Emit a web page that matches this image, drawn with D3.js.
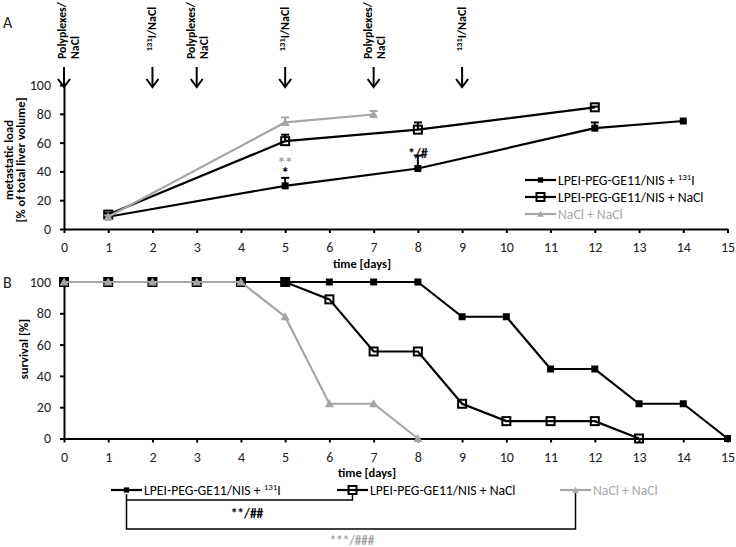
<!DOCTYPE html>
<html><head><meta charset="utf-8">
<script src="https://cdn.jsdelivr.net/npm/d3@7"></script>
<style>
body{margin:0;background:#fff}
svg{display:block;font-family:Carlito,Calibri,Lato,sans-serif}
</style></head><body>
<svg id="c" width="736" height="547"></svg>
<script>
// ---------- data ----------
const dayTicks = [0,1,2,3,4,5,6,7,8,9,10,11,12,13,14,15];
const yTicks = [0,20,40,60,80,100];
const seriesNames = ["LPEI-PEG-GE11/NIS + ", "LPEI-PEG-GE11/NIS + NaCl", "NaCl + NaCl"];
// Panel A: metastatic load
const loadIDays = [1,5,8,12,14];
const loadIVals = [8.5,30,42,70,75];
const loadIErr  = [1,5.5,9,4,0];
const loadNaDays = [1,5,8,12];
const loadNaVals = [10,61,69,84.5];
const loadNaErr  = [1,4.5,5,0.5];
const loadCtrlDays = [1,5,7];
const loadCtrlVals = [8.5,74,79.5];
const loadCtrlErr  = [1,3.5,2.5];
// Panel B: survival
const survIDays = [0,1,2,3,4,5,6,7,8,9,10,11,12,13,14,15];
const survIVals = [100,100,100,100,100,100,100,100,100,77.8,77.8,44.4,44.4,22.2,22.2,0];
const survNaDays = [0,1,2,3,4,5,6,7,8,9,10,11,12,13];
const survNaVals = [100,100,100,100,100,100,88.9,55.6,55.6,22.2,11.1,11.1,11.1,0];
const survCtrlDays = [0,1,2,3,4,5,6,7,8];
const survCtrlVals = [100,100,100,100,100,77.8,22.2,22.2,0];
// treatments
const treatDays = [0,2,3,5,7,9];
const treatKinds = ["poly","iod","poly","iod","poly","iod"];

const GRAY = "#a6a6a6";
const svg = d3.select("#c");
const x = d3.scaleLinear().domain([0,15]).range([64,727.5]);
const yA = d3.scaleLinear().domain([0,100]).range([229,85]);
const yB = d3.scaleLinear().domain([0,100]).range([438.5,282]);

function drawAxes(y){
  const gx = svg.append("g").attr("transform",`translate(0,${y(0)})`)
    .call(d3.axisBottom(x).tickValues(dayTicks).tickFormat(d3.format("d")).tickSize(4).tickSizeOuter(0).tickPadding(9.5));
  const gy = svg.append("g").attr("transform",`translate(${x(0)},0)`)
    .call(d3.axisLeft(y).tickValues(yTicks).tickSize(4).tickSizeOuter(0).tickPadding(9));
  [gx,gy].forEach(g=>{
    g.select(".domain").attr("stroke","#000").attr("stroke-width",2);
    g.selectAll(".tick line").attr("stroke","#000").attr("stroke-width",2);
    g.selectAll(".tick text").attr("font-size",14).attr("fill","#222");
    g.attr("font-family",null).attr("font-size",null);
  });
}

function marker(g, type, cx, cy, s){
  s = s||1;
  if(type==="filled"){
    g.append("rect").attr("x",cx-3.5*s).attr("y",cy-3.5*s).attr("width",7*s).attr("height",7*s).attr("fill","#000");
  } else if(type==="open"){
    g.append("rect").attr("x",cx-4*s).attr("y",cy-4*s).attr("width",8*s).attr("height",8*s)
      .attr("fill","none").attr("stroke","#000").attr("stroke-width",2);
  } else {
    const h=4.5*s;
    g.append("path").attr("d",`M${cx},${cy-h}L${cx+h},${cy+h*0.8}L${cx-h},${cy+h*0.8}Z`).attr("fill",GRAY);
  }
}

function series(y, days, vals, errs, type, color){
  const g = svg.append("g");
  const pts = days.map((d,i)=>[x(d), y(vals[i])]);
  g.append("path").attr("d", d3.line()(pts)).attr("fill","none").attr("stroke",color).attr("stroke-width",2.2);
  if(errs){
    days.forEach((d,i)=>{
      if(!errs[i]) return;
      const xx=x(d), y1=y(vals[i]), y2=y(vals[i]+errs[i]);
      g.append("line").attr("x1",xx).attr("x2",xx).attr("y1",y1).attr("y2",y2).attr("stroke",color).attr("stroke-width",2);
      g.append("line").attr("x1",xx-4).attr("x2",xx+4).attr("y1",y2).attr("y2",y2).attr("stroke",color).attr("stroke-width",2);
    });
  }
  pts.forEach(p=>marker(g,type,p[0],p[1]));
}

// ---------- Panel A ----------
drawAxes(yA);
series(yA, loadIDays, loadIVals, loadIErr, "filled", "#000");
series(yA, loadNaDays, loadNaVals, loadNaErr, "open", "#000");
series(yA, loadCtrlDays, loadCtrlVals, loadCtrlErr, "tri", GRAY);

// significance marks
const s5 = svg.append("text").attr("text-anchor","middle").attr("font-size",15).attr("font-weight","bold");
s5.append("tspan").attr("x",x(5)).attr("y",yA(50)).attr("dy","0.75em").attr("fill",GRAY).text("**");
s5.append("tspan").attr("x",x(5)).attr("y",yA(43)).attr("dy","0.75em").attr("fill","#000").text("*");
svg.append("text").attr("x",x(8)).attr("y",yA(56)).attr("dy","0.7em").attr("text-anchor","middle")
  .attr("font-size",14).attr("font-weight","bold").text("*/#");

// treatment arrows
treatDays.forEach((d,i)=>{
  const xx = x(d);
  const g = svg.append("g");
  g.append("line").attr("x1",xx).attr("x2",xx).attr("y1",67).attr("y2",87).attr("stroke","#000").attr("stroke-width",2);
  g.append("path").attr("d",`M${xx-6},${79}L${xx},${87}L${xx+6},${79}`).attr("fill","none").attr("stroke","#000").attr("stroke-width",2);
  if(treatKinds[i]==="poly"){
    const off = d===0?4:0;
    const t1 = g.append("text").attr("transform",`translate(${xx-2+off},59) rotate(-90)`).attr("font-size",12).attr("font-weight","bold").text("Polyplexes/");
    const L = t1.node().getComputedTextLength();
    const fs = Math.min(12, 12*57/L);
    t1.attr("font-size",fs);
    g.append("text").attr("transform",`translate(${xx+11+off},59) rotate(-90)`).attr("font-size",fs).attr("font-weight","bold").text("NaCl");
  } else {
    const t = g.append("text").attr("transform",`translate(${xx+4},29) rotate(-90)`).attr("text-anchor","middle").attr("font-size",12).attr("font-weight","bold");
    t.append("tspan").attr("font-size",8.5).attr("dy",-4).text("131");
    t.append("tspan").attr("dy",4).text("I/NaCl");
  }
});

// labels panel A
svg.append("text").attr("x",3).attr("y",28).attr("font-size",16).attr("fill","#222").text("A");
svg.append("text").attr("transform",`translate(12.5,160) rotate(-90)`).attr("text-anchor","middle").attr("font-size",12.5).attr("font-weight","bold").text("metastatic load");
svg.append("text").attr("transform",`translate(25,160) rotate(-90)`).attr("text-anchor","middle").attr("font-size",12.5).attr("font-weight","bold").text("[% of total liver volume]");
svg.append("text").attr("x",362).attr("y",268).attr("text-anchor","middle").attr("font-size",12.5).attr("font-weight","bold").text("time [days]");

function legendEntry(lx, ly, idx, color){
  const g = svg.append("g");
  g.append("line").attr("x1",lx).attr("x2",lx+31).attr("y1",ly).attr("y2",ly).attr("stroke",color).attr("stroke-width",2.2);
  marker(g, ["filled","open","tri"][idx], lx+15.5, ly, idx===1?1:0.75);
  const t = g.append("text").attr("x",lx+33).attr("y",ly).attr("dy","0.35em").attr("font-size",13.7).attr("fill",idx===2?GRAY:"#000");
  t.append("tspan").text(seriesNames[idx]);
  if(idx===0){
    t.append("tspan").attr("font-size",9).attr("dy",-5).text("131");
    t.append("tspan").attr("dy",5).text("I");
  }
}
legendEntry(525,180,0,"#000");
legendEntry(525,197,1,"#000");
legendEntry(525,214,2,GRAY);

// ---------- Panel B ----------
drawAxes(yB);
series(yB, survIDays, survIVals, null, "filled", "#000");
series(yB, survNaDays, survNaVals, null, "open", "#000");
series(yB, survCtrlDays, survCtrlVals, null, "tri", GRAY);

svg.append("text").attr("x",3).attr("y",288).attr("font-size",16).attr("fill","#222").text("B");
svg.append("text").attr("transform",`translate(28,349) rotate(-90)`).attr("text-anchor","middle").attr("font-size",12.5).attr("font-weight","bold").text("survival [%]");
svg.append("text").attr("x",367).attr("y",477).attr("text-anchor","middle").attr("font-size",12.5).attr("font-weight","bold").text("time [days]");

legendEntry(111,490,0,"#000");
legendEntry(337,490,1,"#000");
legendEntry(560,490,2,GRAY);

// brackets
const b1 = [[126.5,494],[126.5,500],[352.5,500],[352.5,494]];
svg.append("path").attr("d",d3.line()(b1)).attr("fill","none").attr("stroke","#000").attr("stroke-width",1.5);
const b2 = [[126.5,500],[126.5,529],[575.5,529],[575.5,493]];
svg.append("path").attr("d",d3.line()(b2)).attr("fill","none").attr("stroke","#000").attr("stroke-width",1.5);
svg.append("text").attr("x",247).attr("y",513).attr("dy","0.4em").attr("text-anchor","middle").attr("font-size",13.5).attr("font-weight","bold").text("**/##");
svg.append("text").attr("x",352).attr("y",540).attr("dy","0.35em").attr("text-anchor","middle").attr("font-size",13).attr("font-weight","bold").attr("fill",GRAY).text("***/###");
</script>
</body></html>
